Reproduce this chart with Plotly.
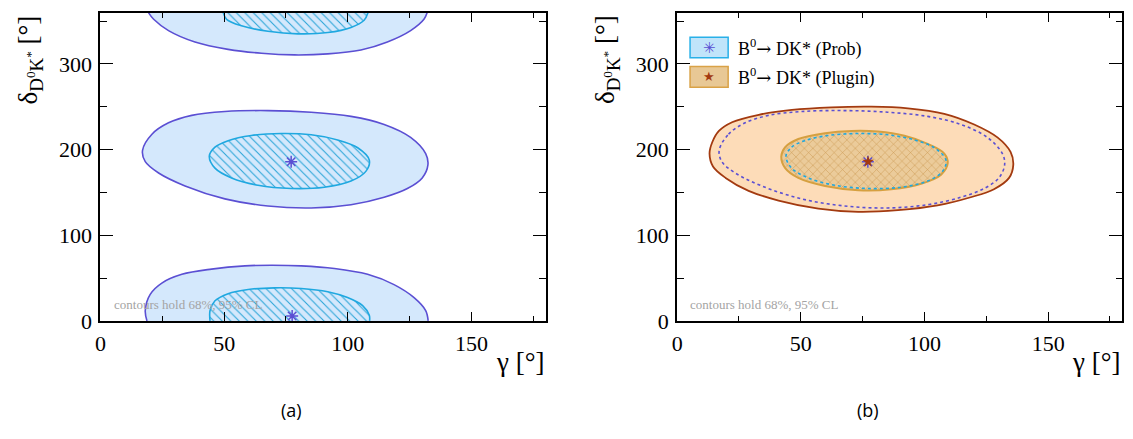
import plotly.graph_objects as go

W, H = 1133, 439

# ---------------- data (gamma [deg], delta [deg]) ----------------
# Prob method, 95% CL contour, central solution
prob95_mid_gamma = [17.0, 20.8, 27.5, 36.9, 50.3, 67.7, 85.2, 101.3, 114.7, 125.4, 131.5, 132.4, 130.1,
                    124.1, 114.7, 101.3, 85.2, 67.7, 50.3, 34.2, 23.5, 18.1, 17.0]
prob95_mid_delta = [199.2, 218.0, 231.3, 240.0, 244.5, 245.6, 243.7, 238.8, 229.4, 214.3, 195.4, 182.2, 167.0,
                    154.6, 144.4, 135.7, 131.9, 134.2, 142.5, 157.6, 172.7, 185.9, 199.2]
# Prob method, 68% CL contour, central solution
prob68_mid_gamma = [44.0, 46.3, 51.6, 61.0, 73.1, 85.2, 95.9, 104.0, 108.7, 107.3, 101.3, 90.5, 77.1,
                    63.7, 53.0, 46.3, 44.0]
prob68_mid_delta = [192.4, 202.9, 210.5, 216.5, 218.8, 217.3, 211.3, 202.2, 187.8, 174.6, 163.3, 156.1, 154.6,
                    158.4, 167.0, 178.4, 192.4]
# Prob method, lower solution (cut at 0)
prob95_low_gamma = [18.8, 18.1, 20.1, 24.8, 32.9, 44.9, 58.4, 69.1, 81.2, 94.6, 108.0, 118.7, 126.8, 131.5, 132.5]
prob95_low_delta = [0.0, 12.1, 31.0, 44.2, 54.4, 60.5, 64.3, 65.0, 64.3, 61.2, 54.4, 42.4, 27.2, 12.1, 0.0]
prob68_low_gamma = [44.3, 44.3, 46.3, 51.6, 59.7, 70.4, 81.2, 91.9, 99.9, 106.0, 108.7, 108.8]
prob68_low_delta = [0.0, 12.1, 23.5, 31.8, 36.7, 38.6, 37.8, 34.0, 27.2, 17.8, 6.5, 0.0]
# Prob method, upper solution (cut at 360)
prob95_high_gamma = [19.4, 21.5, 27.5, 38.2, 51.6, 65.1, 78.5, 91.9, 105.3, 116.0, 125.4, 130.8, 132.1]
prob95_high_delta = [360.0, 352.2, 339.0, 325.7, 317.1, 312.5, 310.6, 311.8, 316.3, 325.7, 339.0, 352.2, 360.0]
prob68_high_gamma = [49.6, 51.0, 57.0, 67.7, 79.8, 91.9, 101.3, 106.6, 108.2]
prob68_high_delta = [360.0, 352.2, 344.6, 338.2, 335.2, 336.7, 342.7, 351.1, 360.0]

# Plugin method contours
plugin95_gamma = [13.1, 14.2, 16.9, 22.2, 33.0, 46.4, 62.4, 78.5, 93.3, 108.0, 120.1, 129.5, 134.8, 135.9,
                  134.2, 128.1, 118.7, 105.3, 89.3, 73.2, 57.1, 41.0, 28.9, 19.6, 14.5, 13.1]
plugin95_delta = [195.4, 208.6, 221.8, 232.0, 240.7, 246.4, 249.4, 250.2, 248.3, 241.9, 229.4, 214.3, 197.3, 182.2,
                  167.0, 153.8, 144.4, 134.9, 129.3, 127.4, 131.2, 140.6, 151.9, 167.0, 180.3, 195.4]
plugin68_gamma = [42.1, 43.7, 49.0, 59.8, 70.5, 81.2, 91.9, 101.3, 108.0, 109.4, 106.7, 98.6, 86.6, 73.2,
                  59.8, 49.0, 43.7, 42.1]
plugin68_delta = [191.6, 202.9, 212.4, 219.2, 221.8, 221.1, 216.2, 206.7, 195.4, 184.1, 170.8, 160.2, 153.8, 152.7,
                  157.6, 167.0, 178.4, 191.6]

# best-fit points
prob_best_gamma = [77.1, 77.5]
prob_best_delta = [185.9, 5.7]
plugin_best_gamma = [77.2]
plugin_best_delta = [185.9]

x_ticks = [0, 50, 100, 150]
y_ticks = [0, 100, 200, 300]

ARROW = "<span style=\"font-family:'DejaVu Serif'\">→</span>"
legend_labels = ["B<sup>0</sup>" + ARROW + " DK* (Prob)", "B<sup>0</sup>" + ARROW + " DK* (Plugin)"]
cl_note = "contours hold 68%, 95% CL"

# ---------------- styles ----------------
SERIF = "Liberation Serif, Times New Roman, serif"
PROB_LINE = "#5b4fd3"
PROB_FILL = "#d4e8fc"
PROB_IN_LINE = "#1fa8e0"
PROB_HATCH = "#2aa5d8"
PLUG_LINE = "#a33a10"
PLUG_FILL = "#fddcb8"
PLUG_IN_LINE = "#d6a040"
PLUG_IN_BG = "#ebcb9a"
PLUG_HATCH = "#c8934a"

fig = go.Figure()


def contour(xs, ys, xa, ya, line, fill=None, pattern=None, dash="solid", width=1.6):
    kw = dict(x=xs, y=ys, mode="lines", xaxis=xa, yaxis=ya, showlegend=False,
              hoverinfo="skip",
              line=dict(color=line, width=width, dash=dash, shape="spline", smoothing=1.0))
    if fill is not None:
        kw["fill"] = "toself"
        kw["fillcolor"] = fill
    if pattern is not None:
        kw["fill"] = "toself"
        kw["fillpattern"] = pattern
    fig.add_trace(go.Scatter(**kw))


# ---------- panel (a) ----------
for gx, gy in [(prob95_mid_gamma, prob95_mid_delta), (prob95_low_gamma, prob95_low_delta),
               (prob95_high_gamma, prob95_high_delta)]:
    contour(gx, gy, "x", "y", PROB_LINE, fill=PROB_FILL)
hatch_a = dict(shape="\\", fgcolor=PROB_HATCH, bgcolor=PROB_FILL, size=6, solidity=0.18, fillmode="replace")
for gx, gy in [(prob68_mid_gamma, prob68_mid_delta), (prob68_low_gamma, prob68_low_delta),
               (prob68_high_gamma, prob68_high_delta)]:
    contour(gx, gy, "x", "y", PROB_IN_LINE, fill=PROB_FILL, pattern=hatch_a)

fig.add_trace(go.Scatter(x=prob_best_gamma, y=prob_best_delta, mode="markers", xaxis="x", yaxis="y",
                         showlegend=False, hoverinfo="skip",
                         marker=dict(symbol="asterisk-open", size=10, color=PROB_LINE,
                                     line=dict(color=PROB_LINE, width=1.5))))

# ---------- panel (b) ----------
contour(plugin95_gamma, plugin95_delta, "x2", "y2", PLUG_LINE, fill=PLUG_FILL, width=1.8)
hatch_b = dict(shape="x", fgcolor=PLUG_HATCH, bgcolor=PLUG_IN_BG, size=6, solidity=0.15, fillmode="replace")
contour(plugin68_gamma, plugin68_delta, "x2", "y2", PLUG_IN_LINE, fill=PLUG_IN_BG, pattern=hatch_b, width=2)
contour(prob95_mid_gamma, prob95_mid_delta, "x2", "y2", PROB_LINE, dash="3px,3px", width=1.6)
contour(prob68_mid_gamma, prob68_mid_delta, "x2", "y2", PROB_IN_LINE, dash="3px,3px", width=1.6)

fig.add_trace(go.Scatter(x=prob_best_gamma[:1], y=prob_best_delta[:1], mode="markers", xaxis="x2", yaxis="y2",
                         showlegend=False, hoverinfo="skip",
                         marker=dict(symbol="asterisk-open", size=10, color=PROB_LINE,
                                     line=dict(color=PROB_LINE, width=1.5))))
fig.add_trace(go.Scatter(x=plugin_best_gamma, y=plugin_best_delta, mode="markers", xaxis="x2", yaxis="y2",
                         showlegend=False, hoverinfo="skip",
                         marker=dict(symbol="star", size=9, color=PLUG_LINE, line=dict(width=0))))

# ---------------- axes ----------------
PA = (95.0, 542.5)
PB = (674.7, 1122.3)
TOP, BOT = 13.0, 330.7


def xax(dom, anchor):
    return dict(domain=[dom[0] / W, dom[1] / W], anchor=anchor, range=[0, 180],
                tickvals=x_ticks, ticks="inside", ticklen=9, tickwidth=1.3, tickcolor="black",
                mirror="allticks", showline=True, linewidth=2, linecolor="black",
                minor=dict(dtick=25, tick0=0, ticks="inside", ticklen=5, tickwidth=1.1, tickcolor="black"),
                showgrid=False, zeroline=False,
                tickfont=dict(family=SERIF, size=22, color="black"), ticklabelstandoff=2)


def yax(anchor):
    return dict(domain=[1 - BOT / H, 1 - TOP / H], anchor=anchor, range=[0, 360],
                tickvals=y_ticks, ticks="inside", ticklen=13, tickwidth=1.3, tickcolor="black",
                mirror="allticks", showline=True, linewidth=2, linecolor="black",
                minor=dict(dtick=50, tick0=0, ticks="inside", ticklen=6.5, tickwidth=1.1, tickcolor="black"),
                showgrid=False, zeroline=False,
                tickfont=dict(family=SERIF, size=22, color="black"), ticklabelstandoff=2)


fig.update_layout(
    width=W, height=H, margin=dict(l=0, r=0, t=0, b=0),
    paper_bgcolor="white", plot_bgcolor="white",
    xaxis=xax(PA, "y"), yaxis=yax("x"),
    xaxis2=xax(PB, "y2"), yaxis2=yax("x2"),
)

ann = []
for dom, lab in [(PA, "(a)"), (PB, "(b)")]:
    # x title
    ann.append(dict(text="γ [°]", x=dom[1] / W, y=1 - 373 / H, xref="paper", yref="paper",
                    xanchor="right", yanchor="middle", showarrow=False,
                    font=dict(family=SERIF, size=27, color="black")))
    # y title
    ann.append(dict(text="δ<sub>D<sup>0</sup>K<sup>*</sup></sub> [°]", x=(dom[0] - 70.5) / W, y=1 - 14 / H,
                    xref="paper", yref="paper", xanchor="center", yanchor="top", textangle=-90,
                    showarrow=False, font=dict(family=SERIF, size=27, color="black")))
    # panel label
    ann.append(dict(text=lab, x=(dom[0] + 192) / W, y=1 - 423 / H, xref="paper", yref="paper",
                    xanchor="center", yanchor="middle", showarrow=False,
                    font=dict(family="Open Sans", size=18, color="black")))

for xr, yr in [("x", "y"), ("x2", "y2")]:
    ann.append(dict(text=cl_note, x=4.5, y=19.5, xref=xr, yref=yr, xanchor="left", yanchor="middle",
                    showarrow=False, font=dict(family=SERIF, size=13, color="#a3a3a3")))

# legend (panel b)
shapes = []
leg_rows = [(38.5, 59.5, "#c0e4fa", "#28b0e8", "✳", PROB_LINE, 15),
            (68.5, 90.0, "#e8c895", "#d9a247", "★", PLUG_LINE, 13)]
for (y0, y1, fc, lc, sym, sc, ss), text in zip(leg_rows, legend_labels):
    shapes.append(dict(type="rect", xref="paper", yref="paper", x0=687.7 / W, x1=726.0 / W,
                       y0=1 - y1 / H, y1=1 - y0 / H, fillcolor=fc, line=dict(color=lc, width=1.5)))
    ann.append(dict(text=sym, x=706.8 / W, y=1 - (y0 + y1) / 2 / H, xref="paper", yref="paper",
                    xanchor="center", yanchor="middle", showarrow=False,
                    font=dict(family="DejaVu Sans", size=ss, color=sc)))
    ann.append(dict(text=text, x=734.0 / W, y=1 - (y0 + y1) / 2 / H, xref="paper", yref="paper",
                    xanchor="left", yanchor="middle", showarrow=False,
                    font=dict(family=SERIF, size=18, color="black")))

fig.update_layout(annotations=ann, shapes=shapes)
fig.write_html("out.html", config={"displayModeBar": False},
               post_script="document.body.style.margin='0';document.body.style.overflow='hidden';")
